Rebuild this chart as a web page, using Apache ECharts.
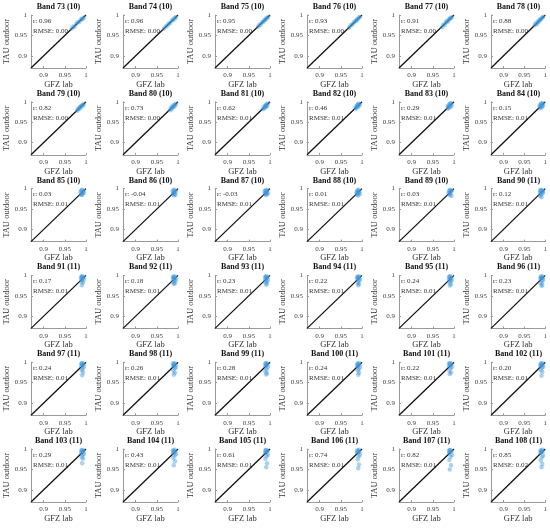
<!DOCTYPE html>
<html>
<head>
<meta charset="utf-8">
<script src="https://cdn.jsdelivr.net/npm/echarts@6/dist/echarts.min.js"></script>
<style>
  html, body { margin: 0; padding: 0; background: #fff; }
  #chart { width: 550px; height: 528px; }
</style>
</head>
<body>
<div id="chart"></div>
<script>
  // band names and sample counts
  const bands = [73, 74, 75, 76, 77, 78, 79, 80, 81, 82, 83, 84, 85, 86, 87, 88, 89, 90,
    91, 92, 93, 94, 95, 96, 97, 98, 99, 100, 101, 102, 103, 104, 105, 106, 107, 108]
  const counts = [10, 10, 10, 10, 10, 10, 10, 10, 10, 10, 10, 10, 10, 10, 10, 10, 10, 11,
    11, 11, 11, 11, 11, 11, 11, 11, 11, 11, 11, 11, 11, 11, 11, 11, 11, 11]
  const rValues = ['0.96', '0.96', '0.95', '0.93', '0.91', '0.88', '0.82', '0.73', '0.62', '0.46', '0.29', '0.15',
    '0.03', '-0.04', '-0.03', '0.01', '0.03', '0.12', '0.17', '0.18', '0.23', '0.22', '0.24', '0.23',
    '0.24', '0.26', '0.28', '0.24', '0.22', '0.20', '0.29', '0.43', '0.61', '0.74', '0.82', '0.85']
  const rmseValues = ['0.00', '0.00', '0.00', '0.00', '0.00', '0.00', '0.00', '0.00', '0.01', '0.01', '0.01', '0.01',
    '0.01', '0.01', '0.01', '0.01', '0.01', '0.01', '0.01', '0.01', '0.01', '0.01', '0.01', '0.01',
    '0.01', '0.01', '0.01', '0.01', '0.01', '0.01', '0.01', '0.01', '0.01', '0.01', '0.01', '0.02']
  const tickValues = [0.9, 0.95, 1]

  // GFZ lab (x) per band
  const gfzLab = [
    [0.966, 0.970, 0.973, 0.977, 0.980, 0.984, 0.987, 0.990, 0.992, 0.995],
    [0.967, 0.971, 0.975, 0.978, 0.981, 0.985, 0.988, 0.990, 0.993, 0.995],
    [0.972, 0.975, 0.978, 0.981, 0.984, 0.986, 0.989, 0.991, 0.993, 0.996],
    [0.970, 0.973, 0.977, 0.980, 0.983, 0.986, 0.988, 0.990, 0.993, 0.995],
    [0.972, 0.975, 0.978, 0.981, 0.983, 0.986, 0.988, 0.990, 0.992, 0.995],
    [0.975, 0.977, 0.980, 0.982, 0.984, 0.986, 0.988, 0.990, 0.992, 0.995],
    [0.979, 0.981, 0.983, 0.985, 0.986, 0.988, 0.989, 0.991, 0.993, 0.995],
    [0.981, 0.983, 0.985, 0.986, 0.988, 0.989, 0.990, 0.992, 0.993, 0.995],
    [0.983, 0.985, 0.986, 0.988, 0.989, 0.990, 0.991, 0.992, 0.993, 0.995],
    [0.984, 0.986, 0.987, 0.988, 0.989, 0.990, 0.991, 0.992, 0.993, 0.995],
    [0.985, 0.986, 0.987, 0.988, 0.989, 0.990, 0.991, 0.992, 0.993, 0.995],
    [0.986, 0.987, 0.988, 0.989, 0.990, 0.991, 0.992, 0.993, 0.994, 0.995],
    [0.987, 0.988, 0.989, 0.990, 0.990, 0.991, 0.992, 0.993, 0.994, 0.995],
    [0.987, 0.988, 0.989, 0.990, 0.991, 0.991, 0.992, 0.993, 0.994, 0.995],
    [0.987, 0.988, 0.989, 0.990, 0.990, 0.991, 0.992, 0.993, 0.994, 0.995],
    [0.987, 0.988, 0.989, 0.989, 0.990, 0.991, 0.992, 0.993, 0.994, 0.995],
    [0.987, 0.988, 0.989, 0.990, 0.991, 0.991, 0.992, 0.993, 0.994, 0.995],
    [0.987, 0.988, 0.988, 0.989, 0.990, 0.991, 0.991, 0.992, 0.993, 0.994, 0.995],
    [0.988, 0.989, 0.989, 0.990, 0.990, 0.991, 0.991, 0.992, 0.993, 0.994, 0.995],
    [0.988, 0.988, 0.989, 0.990, 0.990, 0.991, 0.992, 0.992, 0.993, 0.994, 0.995],
    [0.988, 0.989, 0.989, 0.990, 0.991, 0.991, 0.992, 0.993, 0.993, 0.994, 0.995],
    [0.988, 0.989, 0.990, 0.990, 0.991, 0.991, 0.992, 0.993, 0.993, 0.994, 0.995],
    [0.988, 0.988, 0.989, 0.990, 0.990, 0.991, 0.992, 0.992, 0.993, 0.994, 0.995],
    [0.988, 0.989, 0.989, 0.990, 0.991, 0.991, 0.992, 0.993, 0.993, 0.994, 0.995],
    [0.988, 0.989, 0.990, 0.990, 0.991, 0.991, 0.992, 0.993, 0.993, 0.994, 0.995],
    [0.988, 0.988, 0.989, 0.990, 0.990, 0.991, 0.992, 0.992, 0.993, 0.994, 0.995],
    [0.988, 0.989, 0.989, 0.990, 0.991, 0.991, 0.992, 0.993, 0.993, 0.994, 0.995],
    [0.988, 0.989, 0.990, 0.990, 0.991, 0.991, 0.992, 0.993, 0.993, 0.994, 0.995],
    [0.988, 0.988, 0.989, 0.990, 0.990, 0.991, 0.992, 0.992, 0.993, 0.994, 0.995],
    [0.988, 0.989, 0.989, 0.990, 0.991, 0.991, 0.992, 0.993, 0.993, 0.994, 0.995],
    [0.988, 0.989, 0.990, 0.990, 0.991, 0.991, 0.992, 0.993, 0.993, 0.994, 0.995],
    [0.988, 0.988, 0.989, 0.990, 0.990, 0.991, 0.992, 0.992, 0.993, 0.994, 0.995],
    [0.988, 0.989, 0.989, 0.990, 0.991, 0.991, 0.992, 0.993, 0.993, 0.994, 0.995],
    [0.988, 0.989, 0.990, 0.990, 0.991, 0.991, 0.992, 0.993, 0.993, 0.994, 0.995],
    [0.988, 0.988, 0.989, 0.990, 0.990, 0.991, 0.992, 0.992, 0.993, 0.994, 0.995],
    [0.988, 0.989, 0.989, 0.990, 0.991, 0.991, 0.992, 0.993, 0.993, 0.994, 0.995]
  ]

  // TAU outdoor (y) per band
  const tauOutdoor = [
    [0.967, 0.972, 0.971, 0.978, 0.982, 0.983, 0.988, 0.991, 0.990, 0.994],
    [0.966, 0.972, 0.974, 0.979, 0.980, 0.986, 0.987, 0.991, 0.992, 0.995],
    [0.971, 0.976, 0.977, 0.982, 0.983, 0.987, 0.988, 0.992, 0.992, 0.996],
    [0.969, 0.975, 0.976, 0.981, 0.984, 0.985, 0.989, 0.990, 0.994, 0.995],
    [0.970, 0.977, 0.976, 0.982, 0.985, 0.984, 0.989, 0.991, 0.993, 0.994],
    [0.975, 0.979, 0.978, 0.984, 0.983, 0.987, 0.990, 0.989, 0.993, 0.995],
    [0.978, 0.982, 0.984, 0.983, 0.988, 0.987, 0.990, 0.992, 0.991, 0.995],
    [0.979, 0.985, 0.982, 0.988, 0.986, 0.991, 0.988, 0.993, 0.991, 0.995],
    [0.982, 0.987, 0.984, 0.990, 0.986, 0.992, 0.989, 0.994, 0.990, 0.996],
    [0.985, 0.983, 0.990, 0.987, 0.992, 0.988, 0.994, 0.990, 0.996, 0.993],
    [0.988, 0.983, 0.991, 0.986, 0.994, 0.989, 0.995, 0.987, 0.997, 0.992],
    [0.990, 0.984, 0.993, 0.987, 0.996, 0.986, 0.994, 0.989, 0.997, 0.991],
    [0.992, 0.985, 0.995, 0.987, 0.997, 0.984, 0.993, 0.989, 0.996, 0.990],
    [0.994, 0.986, 0.990, 0.997, 0.983, 0.992, 0.988, 0.996, 0.985, 0.993],
    [0.993, 0.987, 0.996, 0.984, 0.991, 0.995, 0.986, 0.990, 0.997, 0.988],
    [0.991, 0.985, 0.996, 0.988, 0.993, 0.983, 0.997, 0.990, 0.994, 0.987],
    [0.989, 0.994, 0.984, 0.997, 0.990, 0.986, 0.995, 0.992, 0.982, 0.996],
    [0.990, 0.995, 0.982, 0.997, 0.986, 0.993, 0.979, 0.996, 0.988, 0.994, 0.991],
    [0.992, 0.996, 0.985, 0.998, 0.976, 0.993, 0.988, 0.997, 0.982, 0.995, 0.990],
    [0.991, 0.997, 0.984, 0.995, 0.979, 0.993, 0.987, 0.998, 0.981, 0.994, 0.989],
    [0.990, 0.996, 0.983, 0.998, 0.977, 0.994, 0.986, 0.997, 0.980, 0.993, 0.988],
    [0.991, 0.997, 0.982, 0.995, 0.976, 0.994, 0.987, 0.998, 0.979, 0.993, 0.989],
    [0.990, 0.996, 0.983, 0.998, 0.975, 0.992, 0.986, 0.997, 0.978, 0.994, 0.988],
    [0.991, 0.997, 0.981, 0.995, 0.974, 0.993, 0.985, 0.998, 0.977, 0.994, 0.989],
    [0.990, 0.996, 0.980, 0.998, 0.968, 0.993, 0.984, 0.997, 0.975, 0.994, 0.988],
    [0.991, 0.997, 0.979, 0.995, 0.969, 0.992, 0.985, 0.998, 0.974, 0.994, 0.987],
    [0.990, 0.996, 0.978, 0.998, 0.970, 0.993, 0.983, 0.997, 0.973, 0.994, 0.988],
    [0.991, 0.997, 0.980, 0.995, 0.969, 0.992, 0.984, 0.998, 0.974, 0.993, 0.987],
    [0.990, 0.996, 0.979, 0.998, 0.971, 0.993, 0.985, 0.997, 0.975, 0.994, 0.988],
    [0.991, 0.997, 0.981, 0.995, 0.967, 0.992, 0.986, 0.998, 0.976, 0.994, 0.989],
    [0.990, 0.996, 0.980, 0.998, 0.965, 0.993, 0.985, 0.997, 0.976, 0.994, 0.988],
    [0.991, 0.997, 0.978, 0.995, 0.960, 0.992, 0.984, 0.998, 0.970, 0.994, 0.987],
    [0.990, 0.996, 0.976, 0.998, 0.955, 0.993, 0.983, 0.997, 0.965, 0.994, 0.986],
    [0.991, 0.997, 0.975, 0.995, 0.953, 0.992, 0.982, 0.998, 0.962, 0.993, 0.986],
    [0.990, 0.996, 0.973, 0.998, 0.950, 0.993, 0.981, 0.997, 0.960, 0.994, 0.985],
    [0.991, 0.997, 0.972, 0.995, 0.955, 0.992, 0.980, 0.998, 0.963, 0.994, 0.984]
  ]

  const axisMin = 0.87
  const axisMax = 1
  const font = 'Liberation Serif'

  // panel layout (6 x 6)
  const colLeft = 31
  const colStep = 92
  const rowTop = 15
  const rowStep = 86.8
  const plotW = 55
  const plotH = 53

  const chart = echarts.init(document.getElementById('chart'), null, { renderer: 'canvas' })

  const grid = []
  const xAxis = []
  const yAxis = []
  const series = []
  const graphic = []

  function axisCommon(name, gap) {
    return {
      type: 'value',
      min: axisMin,
      max: axisMax,
      name: name,
      nameLocation: 'middle',
      nameGap: gap,
      nameTextStyle: { fontFamily: font, fontSize: 8.5, color: '#333' },
      splitLine: { show: false },
      axisLine: { show: true, lineStyle: { color: '#999', width: 1 } },
      axisTick: { show: true, inside: true, length: 2, customValues: tickValues, lineStyle: { color: '#999' } },
      axisLabel: {
        customValues: tickValues,
        fontFamily: font,
        fontSize: 7,
        color: '#444',
        margin: 4,
        formatter: v => String(+v.toFixed(2))
      }
    }
  }

  bands.forEach((band, i) => {
    const col = i % 6
    const row = Math.floor(i / 6)
    const left = colLeft + col * colStep
    const top = rowTop + row * rowStep

    grid.push({ left: left, top: top, width: plotW, height: plotH, containLabel: false })
    xAxis.push(Object.assign({ gridIndex: i }, axisCommon('GFZ lab', 12)))
    yAxis.push(Object.assign({ gridIndex: i }, axisCommon('TAU outdoor', 19)))

    // 1:1 line
    series.push({
      type: 'line',
      xAxisIndex: i,
      yAxisIndex: i,
      data: [[axisMin, axisMin], [axisMax, axisMax]],
      symbol: 'none',
      silent: true,
      lineStyle: { color: '#111', width: 1.3 },
      z: 2,
      animation: false
    })
    series.push({
      type: 'scatter',
      xAxisIndex: i,
      yAxisIndex: i,
      data: gfzLab[i].map((x, k) => [x, tauOutdoor[i][k]]),
      symbolSize: 4.5,
      itemStyle: { color: 'rgba(60,150,220,0.55)' },
      z: 3,
      animation: false
    })

    graphic.push({
      type: 'text',
      x: left + plotW / 2,
      y: top - 8,
      style: {
        text: 'Band ' + band + ' (' + counts[i] + ')',
        font: 'bold 8px ' + font,
        fill: '#111',
        textAlign: 'center',
        textVerticalAlign: 'middle'
      }
    })
    graphic.push({
      type: 'text',
      x: left + 2,
      y: top + 1,
      style: {
        text: 'r: ' + rValues[i] + '\nRMSE: ' + rmseValues[i],
        font: '7px ' + font,
        lineHeight: 10,
        fill: '#333',
        textAlign: 'left',
        textVerticalAlign: 'top'
      }
    })
  })

  chart.setOption({
    animation: false,
    grid: grid,
    xAxis: xAxis,
    yAxis: yAxis,
    series: series,
    graphic: graphic
  })
</script>
</body>
</html>
